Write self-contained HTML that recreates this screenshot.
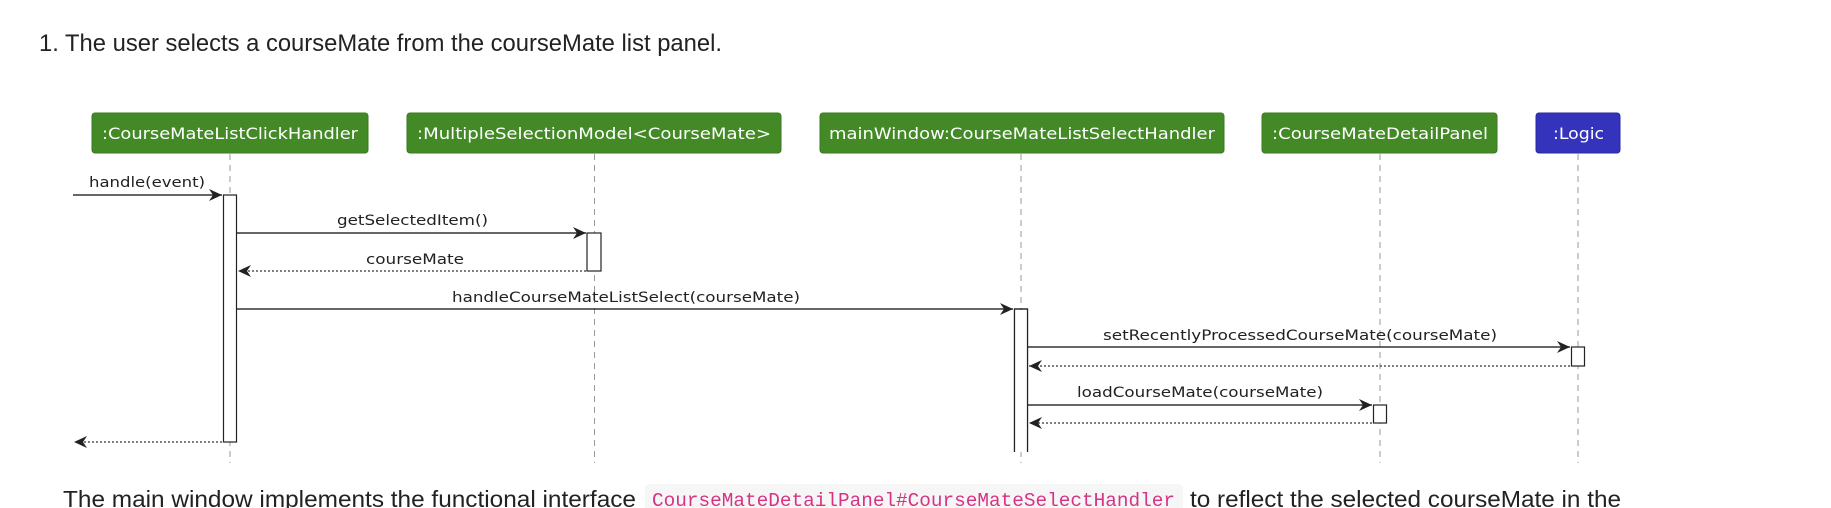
<!DOCTYPE html>
<html><head><meta charset="utf-8"><style>
html,body{margin:0;padding:0;background:#fff;width:1831px;height:508px;overflow:hidden}
svg{display:block}
.t{font-family:"DejaVu Sans","Liberation Sans",sans-serif}
</style></head><body>
<svg width="1831" height="508" viewBox="0 0 1831 508" xmlns="http://www.w3.org/2000/svg">
<defs>
<marker id="a" markerWidth="14" markerHeight="12" refX="13" refY="6" orient="auto" markerUnits="userSpaceOnUse">
<path d="M0,0 L13,6 L0,12 L4,6 Z" fill="#222"/></marker>
</defs>
<text x="39" y="51" font-family="Liberation Sans,sans-serif" font-size="24" fill="#222" textLength="683" lengthAdjust="spacingAndGlyphs">1. The user selects a courseMate from the courseMate list panel.</text>

<g fill="#438a27" stroke="#3a7a22" stroke-width="1">
<rect x="92" y="113" width="276" height="40" rx="3"/>
<rect x="407" y="113" width="374" height="40" rx="3"/>
<rect x="820" y="113" width="404" height="40" rx="3"/>
<rect x="1262" y="113" width="235" height="40" rx="3"/>
</g>
<rect x="1536" y="113" width="84" height="40" rx="3" fill="#3333bb" stroke="#2a2aa0"/>
<g class="t" fill="#fff" font-size="16">
<text x="102" y="139" textLength="256" lengthAdjust="spacingAndGlyphs">:CourseMateListClickHandler</text>
<text x="417" y="139" textLength="354" lengthAdjust="spacingAndGlyphs">:MultipleSelectionModel&lt;CourseMate&gt;</text>
<text x="829" y="139" textLength="386" lengthAdjust="spacingAndGlyphs">mainWindow:CourseMateListSelectHandler</text>
<text x="1272" y="139" textLength="216" lengthAdjust="spacingAndGlyphs">:CourseMateDetailPanel</text>
<text x="1553" y="139" textLength="51" lengthAdjust="spacingAndGlyphs">:Logic</text>
</g>

<g stroke="#999" stroke-width="1" stroke-dasharray="6,5">
<line x1="230" y1="154" x2="230" y2="463"/>
<line x1="594.5" y1="154" x2="594.5" y2="463"/>
<line x1="1021" y1="154" x2="1021" y2="463"/>
<line x1="1380" y1="154" x2="1380" y2="463"/>
<line x1="1578" y1="154" x2="1578" y2="463"/>
</g>

<g fill="#fff" stroke="#222" stroke-width="1.2">
<rect x="223.5" y="195" width="13" height="247"/>
<rect x="587" y="233" width="14" height="38"/>
<rect x="1571.5" y="347" width="13" height="19"/>
<rect x="1373.5" y="405" width="13" height="18"/>
</g>
<g stroke="#222" stroke-width="1.2" fill="none">
<path d="M1014.5,452 V309 H1027.5 V452"/>
<rect x="1015" y="310" width="12" height="142" fill="#fff" stroke="none"/>
<path d="M1014.5,452 V309 H1027.5 V452"/>
</g>

<g stroke="#333" stroke-width="1.5" fill="none">
<line x1="73" y1="195" x2="222" y2="195" marker-end="url(#a)"/>
<line x1="237" y1="233" x2="586" y2="233" marker-end="url(#a)"/>
<line x1="237" y1="309" x2="1013" y2="309" marker-end="url(#a)"/>
<line x1="1028" y1="347" x2="1570" y2="347" marker-end="url(#a)"/>
<line x1="1028" y1="405" x2="1372" y2="405" marker-end="url(#a)"/>
</g>
<g stroke="#333" stroke-width="1.2" fill="none" stroke-dasharray="2,2">
<line x1="586" y1="271" x2="238" y2="271" marker-end="url(#a)"/>
<line x1="1570" y1="366" x2="1029" y2="366" marker-end="url(#a)"/>
<line x1="1372" y1="423" x2="1029" y2="423" marker-end="url(#a)"/>
<line x1="222" y1="442" x2="74" y2="442" marker-end="url(#a)"/>
</g>

<g class="t" fill="#222" font-size="14">
<text x="89" y="187" textLength="116" lengthAdjust="spacingAndGlyphs">handle(event)</text>
<text x="337" y="225" textLength="151" lengthAdjust="spacingAndGlyphs">getSelectedItem()</text>
<text x="366" y="264" textLength="98" lengthAdjust="spacingAndGlyphs">courseMate</text>
<text x="452" y="302" textLength="348" lengthAdjust="spacingAndGlyphs">handleCourseMateListSelect(courseMate)</text>
<text x="1103" y="340" textLength="394" lengthAdjust="spacingAndGlyphs">setRecentlyProcessedCourseMate(courseMate)</text>
<text x="1077" y="397" textLength="246" lengthAdjust="spacingAndGlyphs">loadCourseMate(courseMate)</text>
</g>

<text x="63" y="507" font-family="Liberation Sans,sans-serif" font-size="23" fill="#222" textLength="573" lengthAdjust="spacingAndGlyphs">The main window implements the functional interface</text>
<rect x="645" y="484" width="538" height="30" rx="4" fill="#f6f6f6"/>
<text x="652" y="506" font-family="Liberation Mono,monospace" font-size="19" fill="#d63384" textLength="523" lengthAdjust="spacingAndGlyphs">CourseMateDetailPanel#CourseMateSelectHandler</text>
<text x="1190" y="507" font-family="Liberation Sans,sans-serif" font-size="23" fill="#222" textLength="431" lengthAdjust="spacingAndGlyphs">to reflect the selected courseMate in the</text>
</svg>
</body></html>
